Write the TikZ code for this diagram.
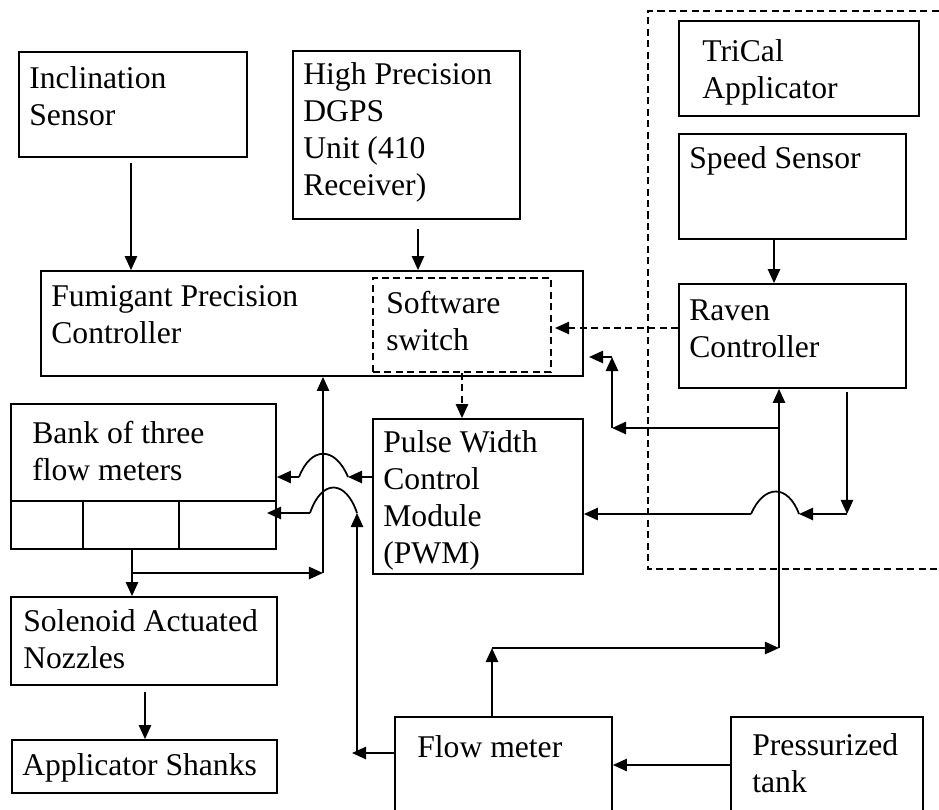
\documentclass[tikz,border=0pt]{standalone}
\usepackage{fontspec}
\setmainfont{Liberation Serif}
\usetikzlibrary{arrows.meta,fit}

\tikzset{
  box/.style={draw, line width=1pt, inner sep=0pt},
  swbox/.style={box, dash pattern=on 4pt off 2.5pt},
  txt/.style={anchor=base west, align=left, inner sep=0pt, font=\fontsize{18}{21}\selectfont},
  wire/.style={line width=1pt},
  flow/.style={wire, -{Triangle[length=8pt,width=7pt]}},
  sig/.style={flow, dash pattern=on 4pt off 2.5pt},
}

\begin{document}
\begin{tikzpicture}[x=0.02cm, y=-0.02cm]
        \useasboundingbox (0,0) rectangle (939,809);

        \node[box, fit={(19,52) (247,157)}] (incl) {};
        \node[box, fit={(293,51) (520,219)}] (dgps) {};
        \node[box, fit={(41,271) (583,376)}] (fpc) {};
        \node[swbox, fit={(373,278) (551,372)}] (sw) {};
        \node[box, fit={(11,404) (276,549)}] (bank) {};
        \node[box, fit={(11,597) (277,685)}] (sol) {};
        \node[box, fit={(12,740) (277,793)}] (shk) {};
        \node[box, fit={(373,419) (583,574)}] (pwm) {};
        \node[box, fit={(395,717) (612,830)}] (fm) {};
        \node[box, fit={(731,717) (923,830)}] (tank) {};
        \node[box, fit={(679,21) (919,116)}] (trical) {};
        \node[box, fit={(679,134) (906,239)}] (speed) {};
        \node[box, fit={(679,284) (906,388)}] (raven) {};

        % texts sit on the baseline of their last line
        \node[txt] (inclT) at (29,125) {Inclination\\Sensor};
        \node[txt] (dgpsT) at (303,195) {High Precision\\DGPS\\Unit (410\\Receiver)};
        \node[txt] (fpcT) at (51,343) {Fumigant Precision\\Controller};
        \node[txt] (swT) at (386,350) {Software\\switch};
        \node[txt] (bankT) at (32,480) {Bank of three\\flow meters};
        \node[txt] (solT) at (23,668) {Solenoid Actuated\\Nozzles};
        \node[txt] (shkT) at (22,775) {Applicator Shanks};
        \node[txt] (pwmT) at (383,563) {Pulse Width\\Control\\Module\\(PWM)};
        \node[txt] (fmT) at (417,757) {Flow meter};
        \node[txt] (tankT) at (752,792) {Pressurized\\tank};
        \node[txt] (tricalT) at (702,98) {TriCal\\Applicator};
        \node[txt] (speedT) at (689,168) {Speed Sensor};
        \node[txt] (ravenT) at (689,357) {Raven\\Controller};

        % three cells of the bank
        \draw[wire] (bank.west |- 0,501) -- (bank.east |- 0,501);
        \draw[wire] (83,501) -- (bank.south -| 83,0);
        \draw[wire] (179,501) -- (bank.south -| 179,0);

        % TriCal applicator
        \draw[wire, dash pattern=on 4pt off 2.5pt] (950,11) -- (648,11) -- (648,569) -- (950,569);

        \coordinate (incl0) at (131,163);
        \coordinate (dgps0) at (418,229);
        \coordinate (speed0) at (774,239);
        \coordinate (sol0) at (145,692);
        \coordinate (ravenOut) at (847,392);
        \coordinate (bankJ) at (132,573);
        \coordinate (upJ) at (323,573);
        \coordinate (fmJ) at (357,753);
        \coordinate (fmTop) at (492,648);
        \coordinate (ravenJ) at (779,648);
        \coordinate (ravenK) at (779,428);
        \coordinate (fpcJ) at (612,428);
        \coordinate (fpcK) at (612,357);
        \coordinate (pwmJ) at (847,514);
        \coordinate (h1a) at (348,477);
        \coordinate (h1b) at (299,477);
        \coordinate (h2a) at (357,513);
        \coordinate (h2b) at (310,513);
        \coordinate (h3a) at (799,514);
        \coordinate (h3b) at (751,514);

        \draw[flow] (incl0) -- (fpc.north -| incl0);
        \draw[flow] (dgps0) -- (fpc.north -| dgps0);
        \draw[flow] (speed0) -- (raven.north -| speed0);
        \draw[flow] (bank.south -| bankJ) -- (sol.north -| bankJ);
        \draw[flow] (bankJ) -- (upJ);
        \draw[flow] (upJ) -- (fpc.south -| upJ);
        \draw[flow] (sol0) -- (shk.north -| sol0);

        \draw[sig] (sw.south) -- (pwm.north -| sw.south);
        \draw[sig] (raven.west |- 0,328) -- (555,328);

        \draw[flow] (pwm.west |- h1a) -- (h1a);
        \draw[wire] (h1a) .. controls (335,446) and (311,446) .. (h1b);
        \draw[flow] (h1b) -- (bank.east |- h1b);

        \draw[flow] (fm.west |- fmJ) -- (352,753);
        \draw[flow] (fmJ) -- (h2a);
        \draw[wire] (h2a) .. controls (346,480) and (322,478) .. (h2b);
        \draw[flow] (h2b) -- (267,513);

        \draw[flow] (tank.west |- 0,765) -- (fm.east |- 0,765);
        \draw[flow] (fm.north -| fmTop) -- (fmTop);
        \draw[flow] (fmTop) -- (ravenJ);
        \draw[flow] (ravenJ) -- (raven.south -| ravenJ);
        \draw[flow] (ravenK) -- (fpcJ);
        \draw[flow] (fpcJ) -- (fpcK);
        \draw[flow] (fpcK) -- (589,357);

        \draw[flow] (ravenOut) -- (pwmJ);
        \draw[flow] (pwmJ) -- (h3a);
        \draw[wire] (h3a) .. controls (788,484) and (764,484) .. (h3b);
        \draw[flow] (h3b) -- (pwm.east |- h3b);
\end{tikzpicture}
\end{document}
